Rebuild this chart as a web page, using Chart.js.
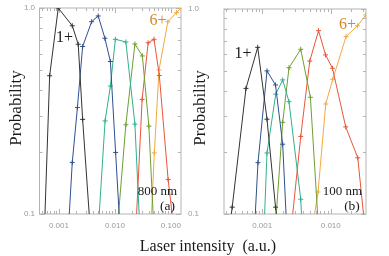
<!DOCTYPE html>
<html>
<head>
  <meta charset="utf-8">
  <title>Probability vs. Laser intensity</title>
  <script src="https://cdn.jsdelivr.net/npm/chart.js"></script>
  <style>
    body {
      margin: 0;
      background: #fff;
      font-family: "Liberation Serif", "DejaVu Serif", serif;
    }
    .stage {
      position: relative;
      width: 389px;
      height: 256px;
      overflow: hidden;
    }
    .stage canvas {
      position: absolute;
      left: 0;
      top: 0;
    }
    .lbl {
      position: absolute;
      transform: translate(-50%, -50%);
      line-height: 1;
      white-space: pre;
      color: #1a1a1a;
    }
    .rot {
      transform: translate(-50%, -50%) rotate(-90deg);
    }
  </style>
</head>
<body>
  <div class="stage">
    <canvas id="chartA" width="389" height="256"></canvas>
    <canvas id="chartB" width="389" height="256"></canvas>

    <div class="lbl rot" style="left:15px; top:108px; font-size:17px;">Probability</div>
    <div class="lbl rot" style="left:199px; top:108px; font-size:17px;">Probability</div>
    <div class="lbl" style="left:208px; top:246px; font-size:16px;">Laser intensity  (a.u.)</div>

    <div class="lbl" style="left:64.5px; top:37px; font-size:16px;">1+</div>
    <div class="lbl" style="left:158px; top:20px; font-size:16px; color:#d4892a;">6+</div>
    <div class="lbl" style="left:157.5px; top:190px; font-size:13px;">800 nm</div>
    <div class="lbl" style="left:167.5px; top:206px; font-size:13.5px;">(a)</div>

    <div class="lbl" style="left:243px; top:53px; font-size:16px;">1+</div>
    <div class="lbl" style="left:347.5px; top:24px; font-size:16px; color:#d4892a;">6+</div>
    <div class="lbl" style="left:342.5px; top:190px; font-size:13px;">100 nm</div>
    <div class="lbl" style="left:352px; top:206px; font-size:13.5px;">(b)</div>
  </div>

  <script>
    // ---- data ----
    // (a) 800 nm
    const a1x = [0.000516, 0.000682, 0.000972, 0.00173, 0.00221, 0.00265, 0.00415];
    const a1y = [0.05, 0.469, 1.0, 0.82, 0.667, 0.288, 0.05];
    const a2x = [0.00132, 0.00173, 0.00214, 0.00265, 0.00384, 0.00503, 0.00663, 0.00831, 0.0103, 0.0138];
    const a2y = [0.05, 0.178, 0.329, 0.650, 0.858, 0.915, 0.713, 0.550, 0.199, 0.05];
    const a3x = [0.00447, 0.00668, 0.00831, 0.0102, 0.0157, 0.0228, 0.0306];
    const a3y = [0.05, 0.283, 0.418, 0.705, 0.684, 0.273, 0.05];
    const a4x = [0.00944, 0.0157, 0.0228, 0.031, 0.0405, 0.0546];
    const a4y = [0.05, 0.271, 0.669, 0.585, 0.267, 0.05];
    const a5x = [0.0216, 0.0307, 0.0393, 0.0501, 0.0623, 0.0895, 0.142];
    const a5y = [0.05, 0.360, 0.678, 0.705, 0.470, 0.147, 0.05];
    const a6x = [0.0403, 0.0507, 0.0615, 0.0884, 0.126, 0.152];
    const a6y = [0.05, 0.198, 0.50, 0.858, 0.949, 1.0];

    // (b) 100 nm
    const b1x = [0.000275, 0.000365, 0.00058, 0.00086, 0.001175, 0.001564, 0.00201];
    const b1y = [0.05, 0.108, 0.410, 0.650, 0.290, 0.108, 0.05];
    const b2x = [0.00071, 0.000868, 0.001175, 0.001564, 0.00199, 0.00246];
    const b2y = [0.05, 0.178, 0.499, 0.426, 0.219, 0.05];
    const b3x = [0.001, 0.001175, 0.001575, 0.00199, 0.00246, 0.00365, 0.00416];
    const b3y = [0.05, 0.1985, 0.384, 0.451, 0.353, 0.118, 0.05];
    const b4x = [0.00139, 0.00199, 0.00246, 0.00365, 0.00505, 0.00731];
    const b4y = [0.05, 0.280, 0.517, 0.636, 0.371, 0.05];
    const b5x = [0.00225, 0.00365, 0.00494, 0.00664, 0.0084, 0.0106, 0.01655, 0.0248, 0.0371];
    const b5y = [0.05, 0.239, 0.557, 0.784, 0.597, 0.514, 0.266, 0.188, 0.05];
    const b6x = [0.00419, 0.00653, 0.00845, 0.0107, 0.0167, 0.0246, 0.0324];
    const b6y = [0.05, 0.128, 0.344, 0.454, 0.733, 0.828, 0.935];

    // tick labels
    const yTicks = [0.1, 1.0];
    const yTickLabels = ['0.1', '1.0'];
    const xTicksA = [0.001, 0.01, 0.1];
    const xTickLabelsA = ['0.001', '0.010', '0.100'];
    const xTicksB = [0.001, 0.01];
    const xTickLabelsB = ['0.001', '0.010'];

    const ionLabels = ['1+', '2+', '3+', '4+', '5+', '6+'];
    const ionColors = ['#333333', '#2f4f8f', '#2fb08f', '#6f9f2f', '#e8553a', '#f4a840'];

    function pairs(xs, ys) {
      return xs.map((x, i) => ({ x: x, y: ys[i] }));
    }

    function makeSets(list) {
      return list.map((s, i) => ({
        label: ionLabels[i],
        data: pairs(s[0], s[1]),
        borderColor: ionColors[i],
        backgroundColor: ionColors[i],
        borderWidth: 1,
        pointStyle: 'cross',
        pointRadius: 2.5,
        pointBorderWidth: 1,
        tension: 0
      }));
    }

    // frame round the plot, small inward ticks on all four sides, y tick labels
    const frameTicks = {
      id: 'frameTicks',
      beforeDatasetsDraw(chart, args, opts) {
        const { ctx, chartArea: a, scales } = chart;
        const xs = scales.x, ys = scales.y;
        ctx.save();
        ctx.strokeStyle = '#b4b4b4';
        ctx.lineWidth = 1;
        ctx.strokeRect(a.left, a.top, a.right - a.left, a.bottom - a.top);
        ctx.beginPath();
        for (let d = Math.floor(Math.log10(xs.min)); d <= Math.ceil(Math.log10(xs.max)); d++) {
          for (let m = 1; m <= 9; m++) {
            const v = m * Math.pow(10, d);
            if (v < xs.min || v > xs.max) continue;
            const px = Math.round(xs.getPixelForValue(v)) + 0.5;
            const len = m === 1 ? 5 : 3;
            ctx.moveTo(px, a.bottom); ctx.lineTo(px, a.bottom - len);
            ctx.moveTo(px, a.top); ctx.lineTo(px, a.top + len);
          }
        }
        for (let m = 1; m <= 10; m++) {
          const v = m / 10;
          const py = Math.round(ys.getPixelForValue(v)) + 0.5;
          const len = (m === 1 || m === 10) ? 5 : 3;
          ctx.moveTo(a.left, py); ctx.lineTo(a.left + len, py);
          ctx.moveTo(a.right, py); ctx.lineTo(a.right - len, py);
        }
        ctx.stroke();

        // y tick labels, right-aligned at a set place
        ctx.fillStyle = '#9a9a9a';
        ctx.font = '8px "Liberation Sans"';
        ctx.textAlign = 'right';
        ctx.textBaseline = 'middle';
        yTicks.forEach((v, i) => {
          ctx.fillText(yTickLabels[i], opts.labelRight, ys.getPixelForValue(v));
        });
        ctx.restore();
      }
    };

    function makeChart(id, sets, xMin, xMax, xTicks, xTickLabels, yWidth, labelRight, pad) {
      return new Chart(document.getElementById(id), {
        type: 'line',
        data: { datasets: makeSets(sets) },
        options: {
          responsive: false,
          animation: false,
          layout: { padding: pad },
          plugins: {
            legend: { display: false },
            tooltip: { enabled: false },
            frameTicks: { labelRight: labelRight }
          },
          scales: {
            x: {
              type: 'logarithmic',
              min: xMin,
              max: xMax,
              grid: { display: false, drawTicks: false },
              border: { display: false },
              afterBuildTicks: s => { s.ticks = xTicks.map(v => ({ value: v })); },
              afterFit: s => { s.height = 21; s.paddingLeft = 0; s.paddingRight = 0; },
              ticks: {
                autoSkip: false,
                maxRotation: 0,
                padding: 7,
                color: '#9a9a9a',
                font: { family: 'Liberation Sans', size: 8 },
                callback: (v, i) => xTickLabels[i]
              }
            },
            y: {
              type: 'logarithmic',
              min: 0.1,
              max: 1.0,
              grid: { display: false, drawTicks: false },
              border: { display: false },
              ticks: { display: false },
              afterFit: s => { s.width = yWidth; s.paddingTop = 0; s.paddingBottom = 0; }
            }
          }
        },
        plugins: [frameTicks]
      });
    }

    makeChart('chartA',
      [[a1x, a1y], [a2x, a2y], [a3x, a3y], [a4x, a4y], [a5x, a5y], [a6x, a6y]],
      0.000449, 0.152, xTicksA, xTickLabelsA, 39.5, 35,
      { left: 0, right: 208, top: 8, bottom: 21 });

    makeChart('chartB',
      [[b1x, b1y], [b2x, b2y], [b3x, b3y], [b4x, b4y], [b5x, b5y], [b6x, b6y]],
      0.000277, 0.0327, xTicksB, xTickLabelsB, 34, 199,
      { left: 190, right: 23, top: 9, bottom: 21 });
  </script>
</body>
</html>
